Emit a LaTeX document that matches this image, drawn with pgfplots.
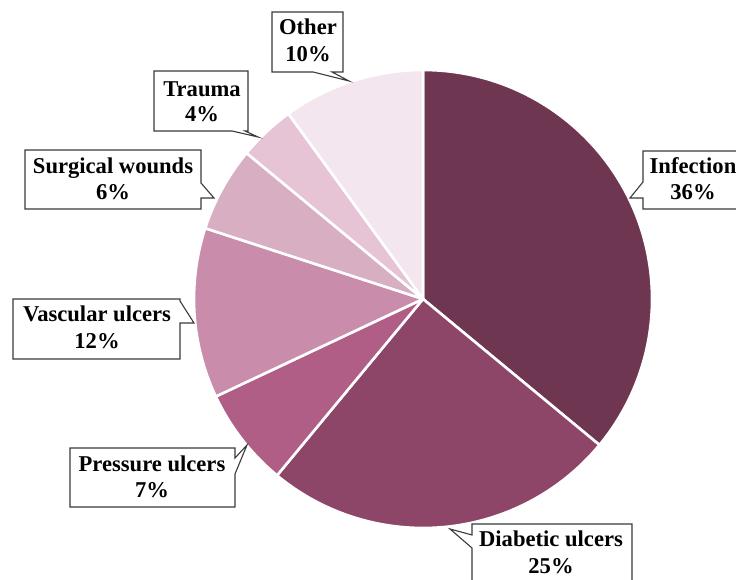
\documentclass[border=0pt]{standalone}
\usepackage{fontspec}
\setmainfont{Liberation Serif}
\usepackage{pgfplots}
\usepackage{pgfplotstable}
\pgfplotsset{compat=1.18}

\definecolor{cInf}{HTML}{6E3651}
\definecolor{cDia}{HTML}{8E4668}
\definecolor{cPre}{HTML}{B05E85}
\definecolor{cVas}{HTML}{C98DAB}
\definecolor{cSur}{HTML}{D8AEC3}
\definecolor{cTra}{HTML}{E7C4D5}
\definecolor{cOth}{HTML}{F4E6EE}
\definecolor{boxline}{HTML}{3A3A3A}

% share of each wound type (percent), clockwise from 12 o'clock
\pgfplotstableread[col sep=comma]{
label,value,color
Infection,36,cInf
Diabetic ulcers,25,cDia
Pressure ulcers,7,cPre
Vascular ulcers,12,cVas
Surgical wounds,6,cSur
Trauma,4,cTra
Other,10,cOth
}\woundtypes

\tikzset{
  callout/.style={draw=boxline, line width=1.1pt, fill=white, line join=miter},
  calltext/.style={anchor=base, inner sep=0pt, font=\bfseries\fontsize{22.6}{26}\selectfont},
}

% two-line label: category name and its share, both taken from the table
\newcommand\calloutlabel[4]{%
  \node[calltext] at (#2,#3) {\pgfplotstablegetelem{#1}{label}\of\woundtypes\pgfplotsretval};
  \node[calltext] at (#2,#4) {\pgfplotstablegetelem{#1}{value}\of\woundtypes\pgfplotsretval\%};
}

\begin{document}
\begin{tikzpicture}
\useasboundingbox (0,0) rectangle (736pt,580pt);
\clip (0,0) rectangle (736pt,580pt);
\begin{axis}[
  at={(0,0)}, anchor=south west,
  scale only axis, width=736pt, height=580pt,
  xmin=0, xmax=736, ymin=0, ymax=580,
  hide axis, clip=false,
]
\pgfplotsextra{
  \def\angA{90}
  \pgfplotsforeachungrouped \i in {0,...,6}{
    \pgfplotstablegetelem{\i}{value}\of\woundtypes \let\share\pgfplotsretval
    \pgfplotstablegetelem{\i}{color}\of\woundtypes \let\wcol\pgfplotsretval
    \pgfmathsetmacro\angB{\angA-3.6*\share}
    \filldraw[fill=\wcol, draw=white, line width=2.6pt, line join=round]
      (axis cs:423,281) -- ([shift={(\angA:229pt)}]axis cs:423,281)
      arc[start angle=\angA, end angle=\angB, radius=229pt] -- cycle;
    \let\angA\angB
  }
}
\end{axis}

\begin{scope}[x=1pt, y=-1pt, yshift=580pt]
  % Other
  \draw[callout] (272,12) -- (343,12) -- (343,72) -- (332,72) -- (349,81)
    -- (313,72) -- (272,72) -- cycle;
  \calloutlabel{6}{308}{35}{62}
  % Trauma
  \draw[callout] (154,71) -- (248,71) -- (248,131) -- (245,131) -- (258,137)
    -- (232,131) -- (154,131) -- cycle;
  \calloutlabel{5}{202}{97}{122}
  % Surgical wounds
  \draw[callout] (25,150) -- (201,150) -- (201,183) -- (214,198) -- (201,198)
    -- (201,209) -- (25,209) -- cycle;
  \calloutlabel{4}{113}{174}{200}
  % Infection
  \draw[callout] (643,151) -- (760,151) -- (760,209) -- (643,209) -- (643,198)
    -- (630,198) -- (643,182) -- cycle;
  \calloutlabel{0}{693}{174}{200}
  % Vascular ulcers
  \draw[callout] (13,299) -- (180,299) -- (180,301) -- (194,323) -- (180,323)
    -- (180,359) -- (13,359) -- cycle;
  \calloutlabel{3}{97}{322}{349}
  % Pressure ulcers
  \draw[callout] (70,448) -- (235,448) -- (235,458) -- (247,445) -- (235,474)
    -- (235,507) -- (70,507) -- cycle;
  \calloutlabel{2}{152}{472}{498}
  % Diabetic ulcers
  \draw[callout] (472,524) -- (632,524) -- (632,600) -- (472,600) -- (472,548)
    -- (450,529) -- (472,535) -- cycle;
  \calloutlabel{1}{551}{547}{574}
\end{scope}
\end{tikzpicture}
\end{document}
